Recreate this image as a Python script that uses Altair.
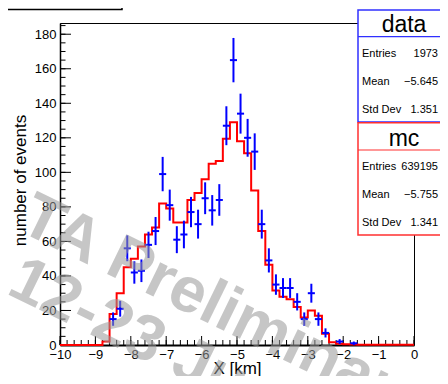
import altair as alt
import pandas as pd
import math

# ---- data ----
bin_low = [round(-10 + 0.2 * i, 1) for i in range(50)]
data_counts = [0, 0, 0, 0, 0, 0, 0,
               15, 21, 56, 42, 43, 58, 66, 99, 81, 61, 64, 77, 70, 85, 78, 84,
               127, 165, 134, 120, 112, 70, 49, 35, 33, 33, 25, 15, 30, 15, 7,
               0, 2, 0, 1,
               0, 0, 0, 0, 0, 0, 0, 0]
mc_counts = [0, 0, 0, 0, 0, 0,
             2, 18, 30, 45, 50, 57, 64, 68, 82, 79, 71, 71, 84, 88, 96, 105,
             106.5, 119.5, 129, 118, 111, 89.5, 66, 46.5, 31.5, 28, 26.5, 22,
             16, 20, 17, 6.5, 1.6, 0.7, 0.4, 0.3,
             0.2, 0.2, 0.1, 0.1, 0.1, 0.1, 0.1, 0.1]
x_major = list(range(-10, 1))
x_minor = [round(-10 + 0.2 * i, 1) for i in range(51)]
y_major = list(range(0, 181, 20))
y_minor = list(range(0, 186, 5))

data_stats = ["1973", "\u22125.645", "1.351"]
mc_stats = ["639195", "\u22125.755", "1.341"]
stat_names = ["Entries", "Mean", "Std Dev"]
watermark = ["TA Preliminary", "12-23 Jun"]

# ---- layout ----
W, H = 354, 322
YMAX = 186.5
FONT = "Liberation Sans"
BLUE = "#0000ff"
RED = "#ff0000"

xs = alt.Scale(domain=[-10, 0], nice=False, zero=False)
ys = alt.Scale(domain=[0, YMAX], nice=False, zero=False)

x_axis = alt.Axis(values=x_major, ticks=False, grid=False, format="d",
                  labelFontSize=13, labelFont=FONT, labelColor="black",
                  labelPadding=3, labelFlush=False, labelOverlap=False,
                  domainColor="black", domainWidth=2,
                  title="X [km]", titleFont=FONT, titleFontSize=17,
                  titleFontWeight="normal", titleColor="black",
                  titleBaseline="alphabetic", titleY=28)
y_axis = alt.Axis(values=y_major, ticks=False, grid=False, format="d",
                  labelFontSize=13, labelFont=FONT, labelColor="black",
                  labelPadding=4, labelFlush=False, labelOverlap=False,
                  domainColor="black", domainWidth=1.5,
                  title="number of events", titleFont=FONT, titleFontSize=17,
                  titleFontWeight="normal", titleColor="black",
                  titleBaseline="alphabetic", titleX=-35, titleY=157,
                  titleAlign="center")

# histogram tables
mc_df = pd.DataFrame({"edge": bin_low + [0.0], "v": mc_counts + [mc_counts[-1]]})
d_df = pd.DataFrame({"lo": bin_low, "n": data_counts})
d_df = d_df[d_df["n"] > 0].copy()
d_df["hi"] = d_df["lo"] + 0.2
d_df["c"] = d_df["lo"] + 0.1
d_df["elo"] = d_df["n"] - d_df["n"].apply(math.sqrt)
d_df["ehi"] = d_df["n"] + d_df["n"].apply(math.sqrt)

one = pd.DataFrame({"a": [0]})

X = lambda f: alt.X(f, scale=xs, axis=x_axis)
Y = lambda f: alt.Y(f, scale=ys, axis=y_axis)

# ticks (inside the frame)
xt_major = alt.Chart(pd.DataFrame({"v": x_major})).mark_rule(color="black", strokeWidth=1).encode(
    x=X("v:Q"), y=alt.value(H), y2=alt.value(H - 9))
xt_minor = alt.Chart(pd.DataFrame({"v": x_minor})).mark_rule(color="black", strokeWidth=1).encode(
    x=X("v:Q"), y=alt.value(H), y2=alt.value(H - 5))
yt_major = alt.Chart(pd.DataFrame({"v": y_major})).mark_rule(color="black", strokeWidth=1).encode(
    y=Y("v:Q"), x=alt.value(0), x2=alt.value(11))
yt_minor = alt.Chart(pd.DataFrame({"v": y_minor})).mark_rule(color="black", strokeWidth=1).encode(
    y=Y("v:Q"), x=alt.value(0), x2=alt.value(5.5))

mc_line = alt.Chart(mc_df).mark_line(interpolate="step-after", color=RED, strokeWidth=2).encode(
    x=X("edge:Q"), y=Y("v:Q"))

d_vert = alt.Chart(d_df).mark_rule(color=BLUE, strokeWidth=2).encode(
    x=X("c:Q"), y=Y("elo:Q"), y2="ehi:Q")
d_hor = alt.Chart(d_df).mark_rule(color=BLUE, strokeWidth=2).encode(
    x=X("lo:Q"), x2="hi:Q", y=Y("n:Q"))

wm_style = dict(angle=26, align="left", baseline="alphabetic", font=FONT,
                fontWeight="bold", fontSize=64, color="#999999", opacity=0.55)
wm1 = alt.Chart(one).mark_text(text=watermark[0], **wm_style).encode(
    x=alt.value(-43), y=alt.value(207))
wm2 = alt.Chart(one).mark_text(text=watermark[1], **wm_style).encode(
    x=alt.value(-55), y=alt.value(270))

# top-left (cut) title box
tl_box = alt.Chart(one).mark_rect(fill="white", stroke="black", strokeWidth=1.5).encode(
    x=alt.value(-80), x2=alt.value(62), y=alt.value(-40), y2=alt.value(-13.5))

layers = [xt_minor, xt_major, yt_minor, yt_major, mc_line, d_vert, d_hor, wm1, wm2, tl_box]


def stat_box(title, values, color, top, sep, bottom):
    out = []
    out.append(alt.Chart(one).mark_rect(fill="white", stroke=color, strokeWidth=1.5).encode(
        x=alt.value(298), x2=alt.value(400), y=alt.value(top), y2=alt.value(bottom)))
    out.append(alt.Chart(one).mark_rule(color=color, strokeWidth=1.2).encode(
        x=alt.value(298), x2=alt.value(400), y=alt.value(sep)))
    out.append(alt.Chart(one).mark_text(text=title, font=FONT, fontSize=23, align="center",
                                        baseline="alphabetic", color="black").encode(
        x=alt.value(344), y=alt.value(sep - 4.5)))
    for k, (name, val) in enumerate(zip(stat_names, values)):
        yb = sep + 20 + 28 * k
        out.append(alt.Chart(one).mark_text(text=name, font=FONT, fontSize=11, align="left",
                                            baseline="alphabetic", color="black").encode(
            x=alt.value(302), y=alt.value(yb)))
        out.append(alt.Chart(one).mark_text(text=val, font=FONT, fontSize=11, align="right",
                                            baseline="alphabetic", color="black").encode(
            x=alt.value(378), y=alt.value(yb)))
    return out


layers += stat_box("data", data_stats, "#3030ff", -13, 13.7, 99)
layers += stat_box("mc", mc_stats, "#ff3030", 99.7, 127, 212)

chart = alt.layer(*layers).properties(
    width=W, height=H,
    autosize=alt.AutoSizeParams(type="none"),
    padding={"left": 52, "top": 15, "right": 26, "bottom": 31},
    background="white",
).configure_view(stroke="black", strokeWidth=1)

chart.save("out.html", embed_options={"renderer": "svg", "actions": False})
